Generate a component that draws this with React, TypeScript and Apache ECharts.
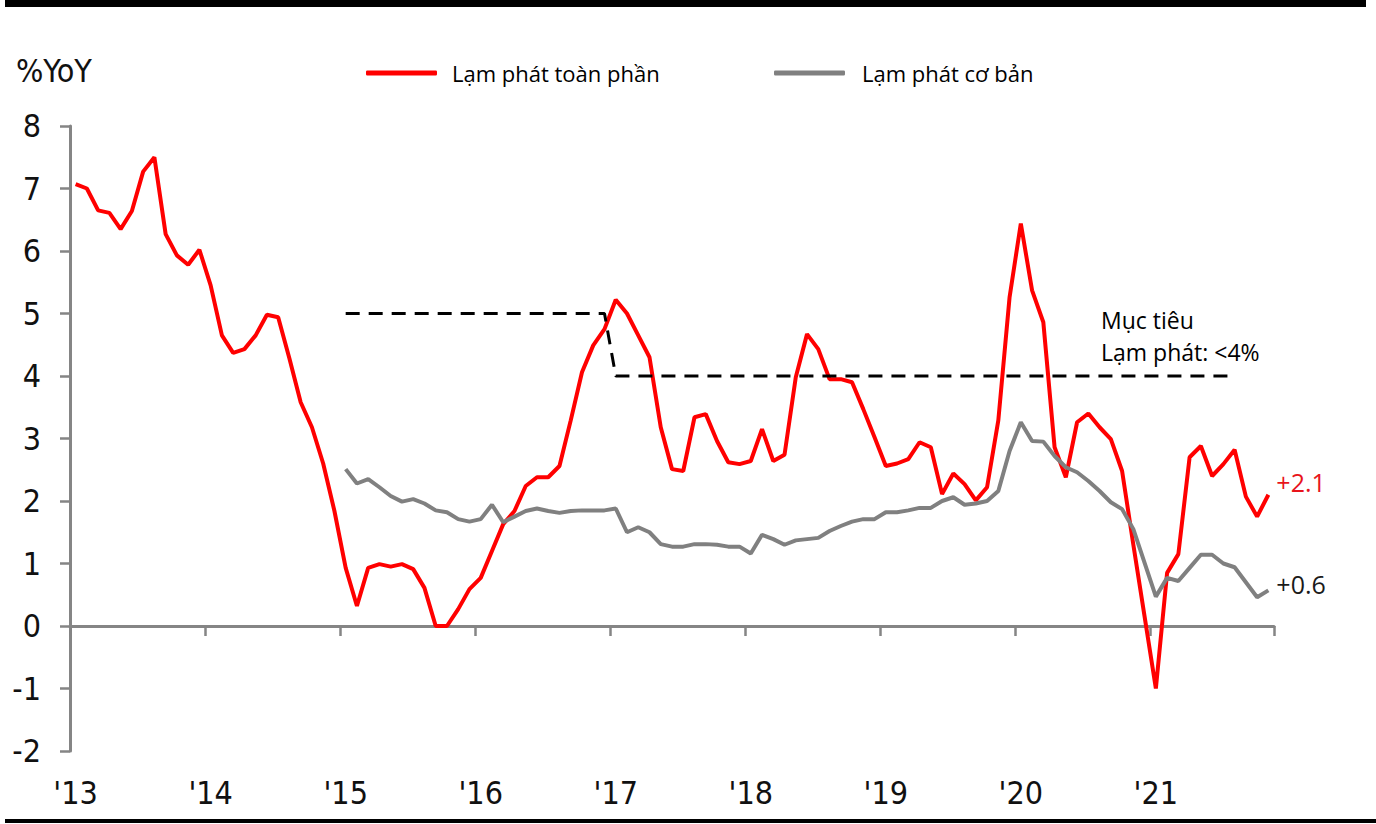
import React, { useEffect, useRef } from "react";
import * as echarts from "echarts";

// Year tick labels (one per January)
const yearLabels = ["'13", "'14", "'15", "'16", "'17", "'18", "'19", "'20", "'21"];
const firstYear = 2013;
const monthCount = 107; // Jan 2013 .. Nov 2021

// Headline inflation (%YoY), monthly from Jan 2013
const headline = [
  7.07, 7.0, 6.65, 6.61, 6.35, 6.64, 7.27, 7.5, 6.27, 5.93, 5.78, 6.02,
  5.45, 4.65, 4.37, 4.43, 4.65, 4.98, 4.94, 4.28, 3.58, 3.18, 2.6, 1.84,
  0.93, 0.32, 0.93, 0.99, 0.95, 0.99, 0.91, 0.61, 0, 0, 0.27, 0.59,
  0.77, 1.2, 1.63, 1.84, 2.24, 2.38, 2.38, 2.56, 3.29, 4.06, 4.49, 4.75,
  5.22, 5.0, 4.65, 4.3, 3.18, 2.51, 2.48, 3.34, 3.39, 2.96, 2.62, 2.59,
  2.64, 3.15, 2.64, 2.74, 3.98, 4.67, 4.43, 3.95, 3.95, 3.9, 3.47, 3.02,
  2.56, 2.6, 2.67, 2.94, 2.86, 2.11, 2.44, 2.27, 2.01, 2.22, 3.29, 5.26,
  6.44, 5.37, 4.86, 2.86, 2.38, 3.26, 3.4, 3.18, 2.99, 2.48, 1.3, 0.15,
  -1.0, 0.85, 1.15, 2.7, 2.88, 2.4, 2.59, 2.82, 2.07, 1.75, 2.1,
];

// Core inflation (%YoY), starts Jan 2015
const core = [
  null, null, null, null, null, null, null, null, null, null, null, null,
  null, null, null, null, null, null, null, null, null, null, null, null,
  2.51, 2.28, 2.35, 2.22, 2.08, 1.99, 2.03, 1.96, 1.85, 1.82, 1.71, 1.67,
  1.71, 1.94, 1.66, 1.75, 1.84, 1.88, 1.84, 1.81, 1.84, 1.85, 1.85, 1.85,
  1.88, 1.5, 1.58, 1.5, 1.31, 1.27, 1.27, 1.31, 1.31, 1.3, 1.27, 1.27,
  1.16, 1.46, 1.39, 1.3, 1.37, 1.39, 1.41, 1.52, 1.6, 1.67, 1.71, 1.71,
  1.82, 1.82, 1.85, 1.89, 1.89, 2.0, 2.06, 1.94, 1.96, 2.0, 2.16, 2.8,
  3.26, 2.96, 2.95, 2.72, 2.54, 2.46, 2.32, 2.16, 1.98, 1.87, 1.55, 1.01,
  0.47, 0.77, 0.72, 0.93, 1.14, 1.14, 1.0, 0.94, 0.7, 0.46, 0.57,
];

// Inflation target (dashed): breakpoints
const targetMonths = ["2015-01", "2016-12", "2017-01", "2021-08"];
const targetValues = [5, 5, 4, 4];

const yTicks = { min: -2, max: 8, interval: 1 };

const NARROW = "'Liberation Sans Narrow', 'DejaVu Sans Condensed', 'Open Sans', sans-serif";
const SANS = "'Open Sans', 'Noto Sans', sans-serif";

function buildMonths(): string[] {
  const out: string[] = [];
  for (let i = 0; i < monthCount; i++) {
    const y = firstYear + Math.floor(i / 12);
    const m = (i % 12) + 1;
    out.push(`${y}-${m < 10 ? "0" + m : m}`);
  }
  return out;
}

export default function App() {
  const ref = useRef<HTMLDivElement>(null);

  useEffect(() => {
    if (!ref.current) return;
    const chart = echarts.init(ref.current, undefined, { renderer: "svg" });
    const months = buildMonths();
    const axisGray = "#858585";

    chart.setOption({
      animation: false,
      backgroundColor: "#fff",
      grid: { left: 70, top: 126, right: 102, bottom: 73, containLabel: false },
      legend: [
        {
          data: ["Lạm phát toàn phần"],
          left: 361,
          top: 56,
          icon: "roundRect",
          itemWidth: 71,
          itemHeight: 5,
          selectedMode: false,
          textStyle: { fontFamily: SANS, fontSize: 22, color: "#000", lineHeight: 24, padding: [0, 0, 0, 10] },
        },
        {
          data: ["Lạm phát cơ bản"],
          left: 769,
          top: 56,
          icon: "roundRect",
          itemWidth: 71,
          itemHeight: 5,
          selectedMode: false,
          textStyle: { fontFamily: SANS, fontSize: 22, color: "#000", lineHeight: 24, padding: [0, 0, 0, 12] },
        },
      ],
      xAxis: [
        {
          type: "category",
          data: months,
          boundaryGap: true,
          axisLine: { onZero: true, lineStyle: { color: axisGray, width: 3 } },
          axisTick: {
            show: true,
            length: 10,
            interval: (idx: number) => idx % 12 === 0,
            lineStyle: { color: axisGray, width: 2.5 },
          },
          axisLabel: { show: false },
          splitLine: { show: false },
        },
        {
          type: "category",
          data: months,
          boundaryGap: true,
          position: "bottom",
          axisLine: { show: false, onZero: false },
          axisTick: { show: false },
          axisLabel: {
            show: true,
            interval: (idx: number) => idx % 12 === 0,
            formatter: (_v: string, idx: number) => yearLabels[Math.floor(idx / 12)] ?? "",
            fontFamily: NARROW,
            fontSize: 32,
            color: "#111",
            margin: 26,
          },
          splitLine: { show: false },
        },
      ],
      yAxis: {
        type: "value",
        min: yTicks.min,
        max: yTicks.max,
        interval: yTicks.interval,
        axisLine: { show: true, lineStyle: { color: axisGray, width: 3 } },
        axisTick: { show: true, length: 10, lineStyle: { color: axisGray, width: 2.5 } },
        axisLabel: { fontFamily: NARROW, fontSize: 32, color: "#111", margin: 29 },
        splitLine: { show: false },
      },
      series: [
        {
          name: "Lạm phát toàn phần",
          type: "line",
          xAxisIndex: 0,
          data: headline,
          symbol: "none",
          lineStyle: { color: "#ff0000", width: 4 },
          itemStyle: { color: "#ff0000" },
          z: 3,
          endLabel: {
            show: true,
            formatter: (p: any) => "+" + Number(p.value).toFixed(1),
            color: "#e8141b",
            fontFamily: SANS,
            fontSize: 25,
            distance: 8,
            offset: [0, -13],
          },
        },
        {
          name: "Lạm phát cơ bản",
          type: "line",
          xAxisIndex: 0,
          data: core,
          symbol: "none",
          lineStyle: { color: "#808080", width: 4 },
          itemStyle: { color: "#808080" },
          z: 4,
          endLabel: {
            show: true,
            formatter: (p: any) => "+" + Number(p.value).toFixed(1),
            color: "#1a1a1a",
            fontFamily: SANS,
            fontSize: 25,
            distance: 8,
            offset: [0, -6],
          },
        },
        {
          name: "Mục tiêu",
          type: "line",
          xAxisIndex: 0,
          data: targetMonths.map((m, i) => [m, targetValues[i]]),
          symbol: "none",
          lineStyle: { color: "#000", width: 3, type: [14, 9] },
          itemStyle: { color: "#000" },
          z: 5,
          silent: true,
        },
      ],
      graphic: [
        { type: "rect", shape: { x: 5, y: 0, width: 1361, height: 7 }, style: { fill: "#000" } },
        { type: "rect", shape: { x: 5, y: 819, width: 1371, height: 4 }, style: { fill: "#000" } },
        {
          type: "text",
          x: 16,
          y: 71,
          style: { text: "%YoY", fill: "#111", fontFamily: NARROW, fontSize: 32, verticalAlign: "middle" },
        },
        {
          type: "text",
          x: 1101,
          y: 320,
          style: { text: "Mục tiêu", fill: "#000", fontFamily: SANS, fontSize: 23, verticalAlign: "middle" },
        },
        {
          type: "text",
          x: 1101,
          y: 352,
          style: { text: "Lạm phát: <4%", fill: "#000", fontFamily: SANS, fontSize: 23, verticalAlign: "middle" },
        },
      ],
    });

    return () => chart.dispose();
  }, []);

  return (
    <div
      ref={ref}
      style={{ position: "fixed", left: 0, top: 0, width: 1376, height: 824, background: "#fff" }}
    />
  );
}
